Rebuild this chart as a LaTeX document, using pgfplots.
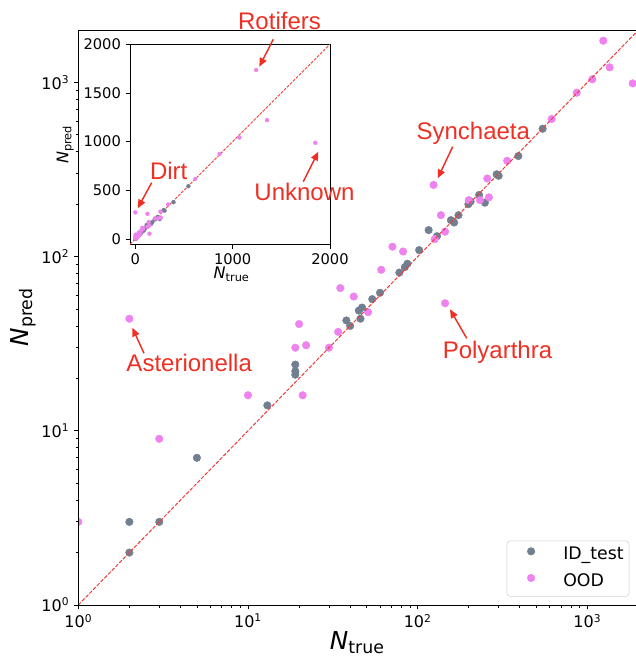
\documentclass[border=0pt]{standalone}
\usepackage{fontspec}
\setmainfont{DejaVu Sans}
\newfontfamily\annfont{Liberation Sans}
\usepackage{pgfplots}
\usepackage{pgfplotstable}
\pgfplotsset{compat=1.18}
\usetikzlibrary{arrows.meta}

\definecolor{idcol}{RGB}{112,128,144}
\definecolor{oodcol}{RGB}{238,130,238}
\definecolor{annred}{RGB}{238,48,36}
\definecolor{diagred}{RGB}{238,60,55}

% true vs. predicted counts, in-distribution test set
\pgfplotstableread{
ntrue npred
2 2
2 3
3 3
5 7
13 14
19 21
19 22
19 24
38 43
40 40
46 44
45 49
47 51
54 57
60 62
78 81
84 87
87 91
102 109
116 142
130 131
157 162
164 157
174 173
199 200
205 207
230 226
249 204
292 297
300 291
392 378
545 542
}\idtest

% true vs. predicted counts, out-of-distribution classes
\pgfplotstableread{
ntrue npred
1 3
2 44
3 9
10 16
19 30
20 41
21 16
22 31
30 30
34 37
35 66
42 59
51 48
61 84
71 114
82 107
124 258
126 126
137 173
145 139
145 54
200 211
233 211
257 281
263 219
337 355
616 617
865 873
1069 1042
1241 1736
1353 1221
1849 988
}\ood

% classes with no true count (only visible on the linear inset)
\pgfplotstableread{
ntrue npred
0 273
0 20
0 8
}\oodzero

\newcommand{\pw}[1]{10\textsuperscript{#1}}

\begin{document}
\begin{tikzpicture}
\useasboundingbox (-58.725pt,-39.75pt) rectangle (418.275pt,453.75pt);

\begin{axis}[
  at={(0pt,0pt)}, anchor=south west,
  scale only axis, width=418.275pt, height=431.25pt,
  xmode=log, ymode=log,
  xmin=1, xmax=1934, ymin=1, ymax=2000,
  xtick={1,10,100,1000}, ytick={1,10,100,1000},
  xticklabels={\pw{0},\pw{1},\pw{2},\pw{3}},
  yticklabels={\pw{0},\pw{1},\pw{2},\pw{3}},
  minor xtick={2,3,4,5,6,7,8,9,20,30,40,50,60,70,80,90,200,300,400,500,600,700,800,900},
  minor ytick={2,3,4,5,6,7,8,9,20,30,40,50,60,70,80,90,200,300,400,500,600,700,800,900},
  xtick pos=left, ytick pos=left, tick align=outside,
  major tick length=3.3pt, minor tick length=1.9pt,
  tick style={black, line width=0.6pt},
  axis line style={draw=none},
  ticklabel style={font=\fontsize{12}{14}\selectfont},
  clip marker paths=true,
  legend cell align=left,
  legend style={at={(rel axis cs:0.988,0.0144)}, anchor=south east,
    draw=black!18, rounded corners=2.5pt, fill=white,
    inner xsep=4pt, inner ysep=4.6pt, row sep=7.5pt,
    font=\fontsize{13}{15}\selectfont,
    nodes={inner xsep=0pt, inner ysep=0pt, text height=9.5pt, text depth=3pt}},
  legend image code/.code={\path (-14pt,0pt) (24pt,0pt);
    \draw[#1] plot coordinates {(0pt,3pt)};},
]
\addplot[only marks, mark=*, color=idcol, mark size=2.85pt, line width=0.3pt]
  table[x=ntrue, y=npred] {\idtest};
\addlegendentry{ID\_test}
\addplot[only marks, mark=*, color=oodcol, mark size=2.85pt, line width=0.3pt]
  table[x=ntrue, y=npred] {\ood};
\addlegendentry{OOD}
\addplot[diagred, line width=0.75pt, dash pattern=on 2.8pt off 1.2pt, forget plot]
  coordinates {(1,1) (2000,2000)};
\end{axis}
% frame: top, left and bottom spines
\draw[black, line width=0.6pt] (418.275pt,431.25pt) -- (0pt,431.25pt) -- (0pt,0pt) -- (418.275pt,0pt);

\begin{axis}[
  at={(38.775pt,270.525pt)}, anchor=south west,
  scale only axis, width=150pt, height=150pt,
  xmin=-55, xmax=2000, ymin=-55, ymax=2000,
  axis background/.style={fill=white},
  xtick={0,1000,2000}, xticklabels={0,1000,2000},
  ytick={0,500,1000,1500,2000}, yticklabels={0,500,1000,1500,2000},
  xtick pos=left, ytick pos=left, tick align=outside,
  major tick length=3.3pt,
  tick style={black, line width=0.6pt},
  axis line style={black, line width=0.6pt},
  ticklabel style={font=\fontsize{11}{13}\selectfont},
]
\addplot[only marks, mark=*, color=idcol, mark size=1.5pt, line width=0.2pt]
  table[x=ntrue, y=npred] {\idtest};
\addplot[only marks, mark=*, color=oodcol, mark size=1.5pt, line width=0.2pt]
  table[x=ntrue, y=npred] {\ood};
\addplot[only marks, mark=*, color=oodcol, mark size=1.5pt, line width=0.2pt]
  table[x=ntrue, y=npred] {\oodzero};
\addplot[diagred, line width=0.6pt, dash pattern=on 2.2pt off 1pt]
  coordinates {(-55,-55) (2000,2000)};
\end{axis}

% labels and annotations, positioned in pixel units of the figure
\begin{scope}[x=0.75pt, y=-0.75pt, shift={(-58.725pt,453.75pt)}]
  \node[anchor=base, inner sep=0pt] at (357,649)
    {\fontsize{18.5}{20}\selectfont\itshape N\raisebox{-3.5pt}{\upshape\fontsize{13}{14}\selectfont true}};
  \node[anchor=base, rotate=90, inner sep=0pt] at (28.3,317.5)
    {\fontsize{18.5}{20}\selectfont\itshape N\raisebox{-3.5pt}{\upshape\fontsize{13}{14}\selectfont pred}};
  \node[anchor=base, inner sep=0pt] at (231.3,278.3)
    {\fontsize{12}{14}\selectfont\itshape N\raisebox{-2.3pt}{\upshape\fontsize{8.5}{9}\selectfont true}};
  \node[anchor=base, rotate=90, inner sep=0pt] at (68.3,145)
    {\fontsize{12}{14}\selectfont\itshape N\raisebox{-2.3pt}{\upshape\fontsize{8.5}{9}\selectfont pred}};

  \begin{scope}[annred, every node/.style={anchor=base, inner sep=0pt, font=\annfont\fontsize{18}{20}\selectfont}]
    \node at (279.5,29.3) {Rotifers};
    \node at (168.7,180) {Dirt};
    \node at (304.5,201) {Unknown};
    \node at (473.3,140) {Synchaeta};
    \node at (189.2,371.5) {Asterionella};
    \node at (497.5,358.5) {Polyarthra};
    \begin{scope}[line width=1.1pt, -{Triangle[length=6.5pt,width=5.5pt]}]
      \draw (273.3,39.3) -- (259.3,66.7);
      \draw (151.7,182.7) -- (137.7,208.3);
      \draw (303.3,181.7) -- (318.3,151.7);
      \draw (452.7,146.7) -- (437.7,178.3);
      \draw (144,353.3) -- (132.3,327.7);
      \draw (466.7,338.3) -- (450,309.3);
    \end{scope}
  \end{scope}
\end{scope}
\end{tikzpicture}
\end{document}
